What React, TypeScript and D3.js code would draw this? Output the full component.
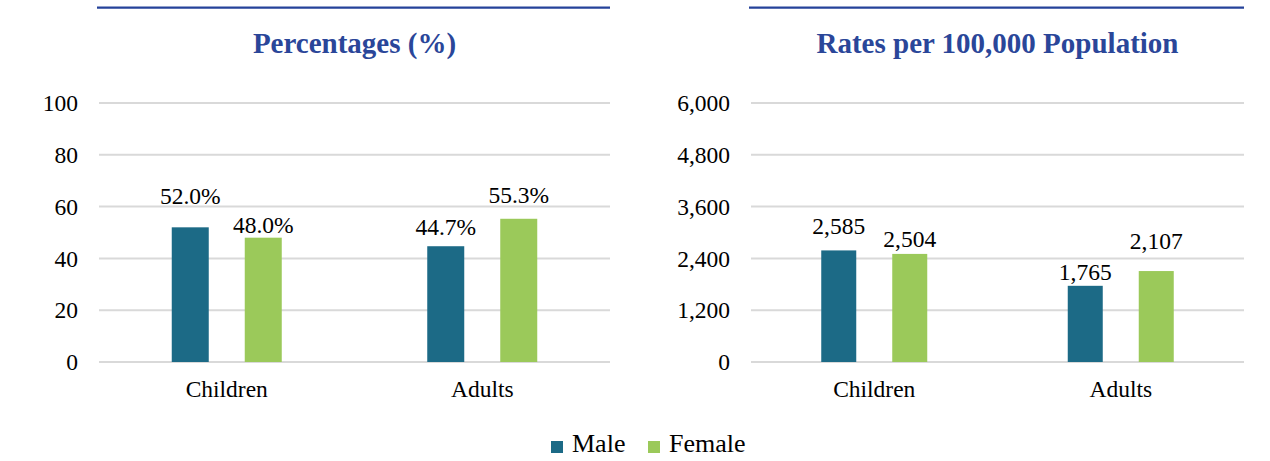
import React from "react";
import * as d3 from "d3";

const categories = ["Children", "Adults"];
const series = ["Male", "Female"];
const colors = ["#1C6A86", "#9BC95A"];

const pctMale = [52.0, 44.7];
const pctFemale = [48.0, 55.3];
const pctTicks = [0, 20, 40, 60, 80, 100];

const rateMale = [2585, 1765];
const rateFemale = [2504, 2107];
const rateTicks = [0, 1200, 2400, 3600, 4800, 6000];

// label lift above bar top (px), per [category][series]
const pctLift = [[32, 13], [19, 24]];
const rateLift = [[25, 15], [14, 30]];

const FONT = "'Liberation Serif', 'Times New Roman', Times, serif";
const W = 1270;
const H = 461;

type PanelProps = {
  x0: number;
  x1: number;
  title: string;
  ticks: number[];
  maxV: number;
  male: number[];
  female: number[];
  lift: number[][];
  fmtTick: (v: number) => string;
  fmtLabel: (v: number) => string;
  barW: number;
  barOff: number;
};

function Panel(p: PanelProps) {
  const y = d3.scaleLinear().domain([0, p.maxV]).range([362, 103]);
  const x = d3.scaleBand<string>().domain(categories).range([p.x0, p.x1]);
  const vals = [p.male, p.female];
  return (
    <g>
      <line x1={p.x0 - 2} x2={p.x1} y1={7.7} y2={7.7} stroke="#25429A" strokeWidth={2.2} />
      <text
        x={(p.x0 + p.x1) / 2}
        y={53}
        textAnchor="middle"
        fontFamily={FONT}
        fontWeight="bold"
        fontSize={29}
        fill="#2A4699"
      >
        {p.title}
      </text>
      {p.ticks.map((t) => (
        <g key={t}>
          <line x1={p.x0} x2={p.x1} y1={y(t)} y2={y(t)} stroke="#D9D9D9" strokeWidth={2} />
          <text
            x={p.x0 - 21}
            y={y(t)}
            dy="0.35em"
            textAnchor="end"
            fontFamily={FONT}
            fontSize={23.5}
            fill="#000"
          >
            {p.fmtTick(t)}
          </text>
        </g>
      ))}
      {categories.map((c, ci) => {
        const cx = (x(c) as number) + x.bandwidth() / 2;
        return (
          <g key={c}>
            {series.map((s, si) => {
              const v = vals[si][ci];
              const bx = cx + (si === 0 ? -p.barOff : p.barOff) - p.barW / 2;
              return (
                <g key={s}>
                  <rect x={bx} y={y(v)} width={p.barW} height={y(0) - y(v)} fill={colors[si]} />
                  <text
                    x={bx + p.barW / 2}
                    y={y(v) - p.lift[ci][si]}
                    dy="0.35em"
                    textAnchor="middle"
                    fontFamily={FONT}
                    fontSize={23.5}
                    fill="#000"
                  >
                    {p.fmtLabel(v)}
                  </text>
                </g>
              );
            })}
            <text x={cx} y={397} textAnchor="middle" fontFamily={FONT} fontSize={23.5} fill="#000">
              {c}
            </text>
          </g>
        );
      })}
    </g>
  );
}

export default function App() {
  const fmtComma = d3.format(",");
  return (
    <svg
      width={W}
      height={H}
      style={{ position: "absolute", left: 0, top: 0, background: "#fff" }}
    >
      <rect width={W} height={H} fill="#fff" />
      <Panel
        x0={99}
        x1={610}
        title="Percentages (%)"
        ticks={pctTicks}
        maxV={100}
        male={pctMale}
        female={pctFemale}
        lift={pctLift}
        fmtTick={(v) => String(v)}
        fmtLabel={(v) => v.toFixed(1) + "%"}
        barW={37}
        barOff={36.5}
      />
      <Panel
        x0={751}
        x1={1244}
        title="Rates per 100,000 Population"
        ticks={rateTicks}
        maxV={6000}
        male={rateMale}
        female={rateFemale}
        lift={rateLift}
        fmtTick={(v) => fmtComma(v)}
        fmtLabel={(v) => fmtComma(v)}
        barW={35}
        barOff={35.5}
      />
      <g>
        {series.map((s, i) => {
          const lx = i === 0 ? 551 : 648;
          return (
            <g key={s}>
              <rect x={lx} y={441} width={12} height={12} fill={colors[i]} />
              <text x={lx + 21} y={452} fontFamily={FONT} fontSize={26} fill="#000">
                {s}
              </text>
            </g>
          );
        })}
      </g>
    </svg>
  );
}
